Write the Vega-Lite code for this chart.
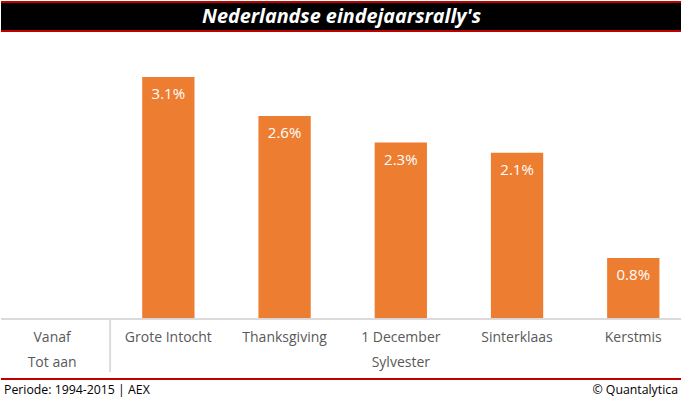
{
  "$schema": "https://vega.github.io/schema/vega-lite/v6.json",
  "padding": {"top": 1, "left": 0, "right": 0, "bottom": 0},
  "background": "white",
  "config": {"view": {"stroke": null}, "font": "Open Sans"},
  "spacing": 5,
  "vconcat": [
    {
      "width": 681,
      "height": 29,
      "view": {"fill": "black", "stroke": null},
      "layer": [
        {
          "data": {"values": [{"t": "Nederlandse eindejaarsrally's"}]},
          "mark": {"type": "text", "color": "white", "font": "Open Sans", "fontSize": 19.8, "fontWeight": "bold", "fontStyle": "italic", "baseline": "middle", "dy": 0},
          "encoding": {"text": {"field": "t"}}
        },
        {
          "data": {"values": [{"rand": 0}, {"rand": 1}]},
          "mark": {"type": "rule", "color": "#C00000", "strokeWidth": 2},
          "encoding": {
            "y": {"field": "rand", "type": "quantitative", "scale": {"domain": [0, 1], "nice": false}, "axis": null}
          }
        }
      ]
    },
    {
      "width": 681,
      "height": 282,
      "data": {"values": [
        {"periode": "Grote Intocht", "rendement": 0.031},
        {"periode": "Thanksgiving", "rendement": 0.026},
        {"periode": "1 December", "rendement": 0.0226},
        {"periode": "Sinterklaas", "rendement": 0.0213},
        {"periode": "Kerstmis", "rendement": 0.0078}
      ]},
      "encoding": {
        "x": {"field": "periode", "type": "nominal", "sort": null,
          "scale": {"domain": ["Vanaf", "Grote Intocht", "Thanksgiving", "1 December", "Sinterklaas", "Kerstmis"], "range": [-7, 690.4], "paddingInner": 0, "paddingOuter": 0},
          "axis": {"title": null, "domain": false, "ticks": false, "grid": false,
            "labelExpr": "datum.value == 'Vanaf' ? ['Vanaf', 'Tot aan'] : datum.value == '1 December' ? ['1 December', 'Sylvester'] : datum.value",
            "labelFont": "Open Sans", "labelFontSize": 14, "labelColor": "#595959", "labelAngle": 0,
            "labelBaseline": "alphabetic", "labelPadding": 22, "labelLineHeight": 25.5,
            "labelOverlap": false, "labelBound": false, "labelFlush": false}},
        "y": {"field": "rendement", "type": "quantitative", "scale": {"domain": [0, 0.036126], "nice": false}, "axis": null}
      },
      "layer": [
        {"mark": {"type": "bar", "color": "#ED7D31", "width": {"band": 0.45}}},
        {"mark": {"type": "text", "color": "white", "font": "Open Sans", "fontSize": 15, "baseline": "middle", "dy": 17},
          "encoding": {"text": {"field": "rendement", "type": "quantitative", "format": ".1%"}}},
        {"mark": {"type": "rule", "color": "#d9d9d9"},
          "encoding": {
            "x": {"datum": "Grote Intocht", "bandPosition": 0},
            "y": {"datum": 0},
            "y2": {"datum": -0.0068}
          }},
        {"mark": {"type": "rule", "color": "#d9d9d9"},
          "encoding": {
            "x": null,
            "y": {"datum": 0}
          }}
      ]
    },
    {
      "width": 681,
      "height": 21,
      "layer": [
        {
          "data": {"values": [{"rand": 1}]},
          "mark": {"type": "rule", "color": "#C00000", "strokeWidth": 2},
          "encoding": {
            "y": {"field": "rand", "type": "quantitative", "scale": {"domain": [0, 1], "nice": false}, "axis": null}
          }
        },
        {
          "data": {"values": [{"t": "Periode: 1994-2015 | AEX", "p": 0}]},
          "mark": {"type": "text", "align": "left", "baseline": "middle", "font": "Open Sans", "fontSize": 12.3, "color": "#000000", "dx": 3},
          "encoding": {
            "x": {"field": "p", "type": "quantitative", "scale": {"domain": [0, 1]}, "axis": null},
            "text": {"field": "t"}
          }
        },
        {
          "data": {"values": [{"t": "© Quantalytica", "p": 1}]},
          "mark": {"type": "text", "align": "right", "baseline": "middle", "font": "Open Sans", "fontSize": 12.3, "color": "#000000", "dx": -4},
          "encoding": {
            "x": {"field": "p", "type": "quantitative"},
            "text": {"field": "t"}
          }
        }
      ]
    }
  ]
}
